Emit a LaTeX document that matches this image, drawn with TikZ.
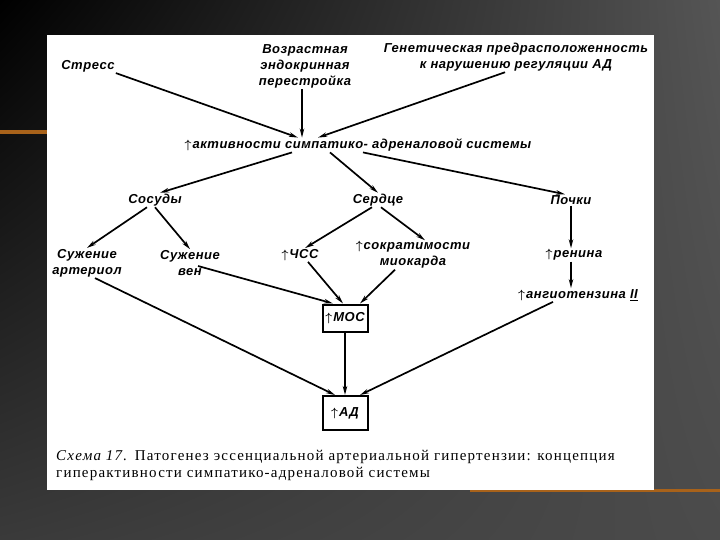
\documentclass[tikz,border=0pt]{standalone}
\usepackage{amsmath}
\usepackage{fontspec}
\setmainfont{Liberation Serif}
\newfontfamily\schemefont[LetterSpace=4.0]{Liberation Sans}
\newfontfamily\capfont[LetterSpace=8.0]{Liberation Serif}
\usepackage{tikz}
\usetikzlibrary{arrows.meta}
\usetikzlibrary{shadings}

\definecolor{slidegray}{HTML}{4B4B4B}
\definecolor{slidelight}{HTML}{555555}
\definecolor{slidedark}{HTML}{3A3A3A}
\definecolor{stripe}{HTML}{A8621A}

\tikzset{
  lbl/.style={font=\schemefont\bfseries\itshape\fontsize{13}{16}\selectfont, inner sep=1pt, align=center},
  boxlbl/.style={lbl, draw, line width=2pt, minimum width=45pt},
  arr/.style={-{Stealth[length=9pt,width=4.5pt]}, line width=1.7pt},
}
\newcommand{\up}{$\boldsymbol{\uparrow}$\kern1pt}

\begin{document}
\begin{tikzpicture}[x=1pt,y=-1pt]
\useasboundingbox (0,0) rectangle (720,540);

% slide background
\shade[upper left=black, upper right=slidelight, lower left=slidedark, lower right=slidegray] (0,0) rectangle (720,540);
\fill[stripe] (0,130) rectangle (47,134);
\fill[stripe] (470,489) rectangle (720,492);
\fill[white] (47,35) rectangle (654,490);

% causes
\node[lbl] (stress) at (88,66) {Стресс};
\node[lbl] (age) at (305,66) {Возрастная\\эндокринная\\перестройка};
\node[lbl] (gen) at (516,57) {Генетическая предрасположенность\\к нарушению регуляции АД};

\node[lbl] (act) at (358,145) {\up активности симпатико- адреналовой системы};

% second level
\node[lbl] (vessels) at (155,200) {Сосуды};
\node[lbl] (heart) at (378,200) {Сердце};
\node[lbl] (kidney) at (571,200) {Почки};

\node[lbl] (arter) at (87,263) {Сужение\\артериол};
\node[lbl] (veins) at (190,263) {Сужение\\вен};
\node[lbl] (hr) at (300,255) {\up ЧСС};
\node[lbl] (contr) at (413,255) {\up сократимости\\миокарда};
\node[lbl] (renin) at (574,255) {\up ренина};
\node[lbl] (angio) at (578,295) {\up ангиотензина \underline{II}};

\node[boxlbl, minimum height=27pt] (mos) at (345,318) {\up МОС};
\node[boxlbl, minimum height=34pt] (ad) at (345,413) {\up АД};

% caption
\node[anchor=north west, align=left, inner sep=0pt, font=\capfont\fontsize{15}{17}\selectfont] (cap) at (56,450)
  {\textit{Схема 17.} Патогенез эссенциальной артериальной гипертензии: концепция\\
   гиперактивности симпатико-адреналовой системы};

% arrows
\draw[arr] (stress.south east) -- ([xshift=-60pt]act.north);
\draw[arr] ([xshift=-3pt]age.south) -- ([xshift=-56pt]act.north);
\draw[arr] ([xshift=-11pt]gen.south) -- ([xshift=-40pt]act.north);

\draw[arr] ([xshift=-66pt]act.south) -- ([xshift=5pt]vessels.north);
\draw[arr] ([xshift=-28pt]act.south) -- (heart.north);
\draw[arr] ([xshift=5pt]act.south) -- ([xshift=-6pt]kidney.north);

\draw[arr] ([xshift=-8pt]vessels.south) -- (arter.north);
\draw[arr] (vessels.south) -- (veins.north);
\draw[arr] ([xshift=-6pt]heart.south) -- ([xshift=5pt]hr.north);
\draw[arr] ([xshift=3pt]heart.south) -- ([xshift=12pt]contr.north);
\draw[arr] (kidney.south) -- ([xshift=-3pt]renin.north);
\draw[arr] ([xshift=-3pt]renin.south) -- ([xshift=-7pt]angio.north);

\draw[arr] ([xshift=8pt,yshift=-3pt]veins.center) -- ([xshift=-12pt]mos.north);
\draw[arr] ([xshift=8pt]hr.south) -- ([xshift=-2pt]mos.north);
\draw[arr] ([xshift=-18pt]contr.south) -- ([xshift=15pt]mos.north);
\draw[arr] (mos.south) -- (ad.north);
\draw[arr] ([xshift=8pt]arter.south) -- ([xshift=-10pt]ad.north);
\draw[arr] ([xshift=-25pt]angio.south) -- ([xshift=15pt]ad.north);

\end{tikzpicture}
\end{document}
